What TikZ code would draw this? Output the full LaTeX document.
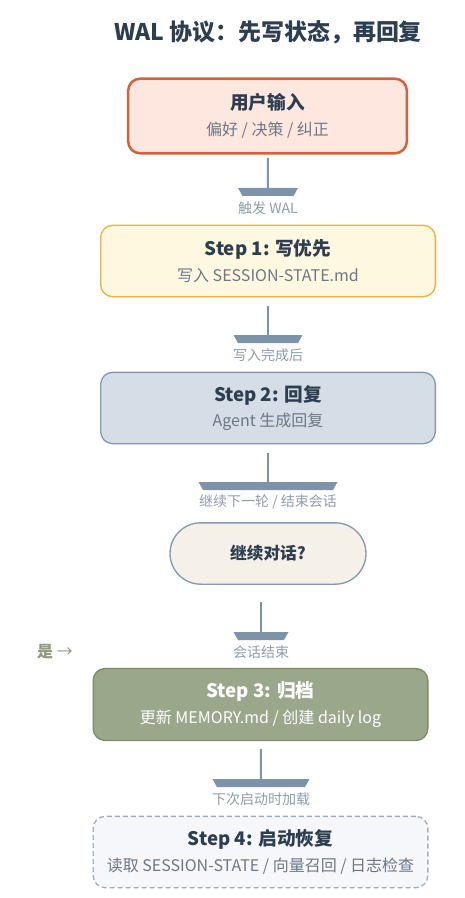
\documentclass[tikz,border=0pt]{standalone}
\usepackage{fontspec}
\setmainfont{Noto Sans CJK SC}
\definecolor{titlec}{HTML}{2C3E50}
\definecolor{subc}{HTML}{6C7886}
\definecolor{lblc}{HTML}{8D9CAC}
\definecolor{linkc}{HTML}{7D93AA}
\definecolor{yesc}{HTML}{8F9A7A}
\definecolor{inline}{HTML}{D95F3B}
\definecolor{infill}{HTML}{FDE7DF}
\definecolor{oneline}{HTML}{F0B040}
\definecolor{onefill}{HTML}{FFF8E0}
\definecolor{twoline}{HTML}{8499B1}
\definecolor{twofill}{HTML}{D5DDE7}
\definecolor{askfill}{HTML}{F5F0E8}
\definecolor{threeline}{HTML}{7C8B68}
\definecolor{threefill}{HTML}{9AA78A}
\definecolor{fourline}{HTML}{A4ADBD}
\definecolor{fourfill}{HTML}{F5F7FA}
\tikzset{
  box/.style={draw, rounded corners=9pt, line width=1pt, minimum width=251pt,
    minimum height=53.5pt, inner sep=0pt, align=center, text=titlec,
    font=\fontsize{12}{14}\selectfont},
  link/.style={draw=linkc, line width=1.5pt},
  lbl/.style={text=lblc, font=\fontsize{10.5}{12}\selectfont},
}
\begin{document}
\begin{tikzpicture}[x=0.75pt,y=-0.75pt]
  \useasboundingbox (0,0) rectangle (464,898);

  % 标题
  \node[font=\fontsize{17.2}{20}\selectfont\bfseries, text=titlec] (title) at (268,32)
    {WAL 协议：先写状态，再回复};

  % 用户输入
  \node[box, draw=inline, fill=infill, line width=1.9pt, minimum width=209pt, minimum height=56pt]
    (user) at (267.5,116)
    {{\fontsize{14}{16}\selectfont\bfseries 用户输入}\\[5pt]{\color{subc}偏好 / 决策 / 纠正}};

  % Step 1
  \node[box, draw=oneline, fill=onefill] (wal) at (268,261)
    {{\fontsize{14}{16}\selectfont\bfseries Step 1: 写优先}\\[5pt]{\color{subc}写入 SESSION-STATE.md}};

  % Step 2
  \node[box, draw=twoline, fill=twofill] (reply) at (268,408)
    {{\fontsize{14}{16}\selectfont\bfseries Step 2: 回复}\\[5pt]{\color{subc}Agent 生成回复}};

  % 判断
  \node[box, draw=twoline, fill=askfill, rounded corners=23pt, minimum width=147pt,
    minimum height=46pt, font=\fontsize{12.5}{14}\selectfont\bfseries] (ask) at (268,553.5) {继续对话?};

  % Step 3
  \node[box, draw=threeline, fill=threefill, text=white, minimum height=54pt] (archive) at (260.5,704.5)
    {{\fontsize{14}{16}\selectfont\bfseries Step 3: 归档}\\[5pt]更新 MEMORY.md / 创建 daily log};

  % Step 4（虚线框）
  \node[box, draw=fourline, fill=fourfill, dash pattern=on 3.75pt off 2.25pt] (restore) at (260.5,852)
    {{\fontsize{14}{16}\selectfont\bfseries Step 4: 启动恢复}\\[5pt]{\color{subc}读取 SESSION-STATE / 向量召回 / 日志检查}};

  % 连线 1
  \coordinate (t1) at (268,188);
  \draw[link, shorten <=2.5pt] (user) -- (t1);
  \fill[linkc] (t1) ++(-30,0) -- ++(60,0) -- ++(-4.5,8) -- ++(-51,0) -- cycle;
  \node[lbl] (l1) at (268,208) {触发 WAL};

  % 连线 2
  \coordinate (t2) at (268,335);
  \draw[link, shorten <=6.5pt] (wal) -- (t2);
  \fill[linkc] (t2) ++(-34.5,0) -- ++(69,0) -- ++(-4.5,8) -- ++(-60,0) -- cycle;
  \node[lbl] (l2) at (268,355) {写入完成后};

  % 连线 3
  \coordinate (t3) at (268,482);
  \draw[link, shorten <=6.5pt] (reply) -- (t3);
  \fill[linkc] (t3) ++(-69.5,0) -- ++(139,0) -- ++(-4.5,8) -- ++(-130,0) -- cycle;
  \node[lbl] (l3) at (268,502) {继续下一轮 / 结束会话};

  % 连线 4
  \coordinate (t4) at (261,632);
  \draw[link, shorten <=13pt] (ask.south -| t4) -- (t4);
  \fill[linkc] (t4) ++(-27.5,0) -- ++(55,0) -- ++(-4.5,8) -- ++(-46,0) -- cycle;
  \node[lbl] (l4) at (261,652) {会话结束};
  \node[font=\fontsize{12}{14}\selectfont, text=yesc] (yes) at (55,652) {\textbf{是} →};

  % 连线 5
  \coordinate (t5) at (261,779);
  \draw[link, shorten <=6pt] (archive) -- (t5);
  \fill[linkc] (t5) ++(-48.5,0) -- ++(97,0) -- ++(-4.5,8) -- ++(-88,0) -- cycle;
  \node[lbl] (l5) at (261,799) {下次启动时加载};
\end{tikzpicture}
\end{document}
